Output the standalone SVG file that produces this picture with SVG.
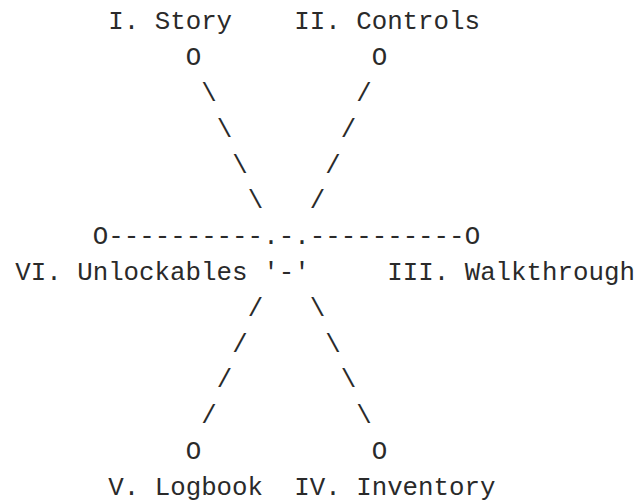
<svg xmlns="http://www.w3.org/2000/svg" width="639" height="502" viewBox="0 0 639 502">
<style>
text{font-family:"Liberation Mono","DejaVu Sans Mono",monospace;font-size:25.8px;fill:#2a2a2a;white-space:pre}
</style>
<rect width="639" height="502" fill="#fff"/>
<g id="connectors">
<text x="201.25" y="100.9">\</text>
<text x="216.75" y="136.7">\</text>
<text x="232.25" y="172.5">\</text>
<text x="247.75" y="208.3">\</text>
<text x="356.25" y="100.9">/</text>
<text x="340.75" y="136.7">/</text>
<text x="325.25" y="172.5">/</text>
<text x="309.75" y="208.3">/</text>
<text x="108.25" y="244.1">----------</text>
<text x="309.75" y="244.1">----------</text>
<text x="247.75" y="315.7">/</text>
<text x="232.25" y="351.5">/</text>
<text x="216.75" y="387.3">/</text>
<text x="201.25" y="423.1">/</text>
<text x="309.75" y="315.7">\</text>
<text x="325.25" y="351.5">\</text>
<text x="340.75" y="387.3">\</text>
<text x="356.25" y="423.1">\</text>
</g>
<g id="hub">
<text x="263.25" y="244.1">.-.</text>
<text x="263.25" y="279.9">'-'</text>
</g>
<g id="node-story">
<text x="108.25" y="29.3">I. Story</text>
<text x="185.75" y="65.1">O</text>
</g>
<g id="node-controls">
<text x="294.25" y="29.3">II. Controls</text>
<text x="371.75" y="65.1">O</text>
</g>
<g id="node-walkthrough">
<text x="464.75" y="244.1">O</text>
<text x="387.25" y="279.9">III. Walkthrough</text>
</g>
<g id="node-inventory">
<text x="371.75" y="458.9">O</text>
<text x="294.25" y="494.7">IV. Inventory</text>
</g>
<g id="node-logbook">
<text x="185.75" y="458.9">O</text>
<text x="108.25" y="494.7">V. Logbook</text>
</g>
<g id="node-unlockables">
<text x="92.75" y="244.1">O</text>
<text x="15.25" y="279.9">VI. Unlockables</text>
</g>
</svg>
